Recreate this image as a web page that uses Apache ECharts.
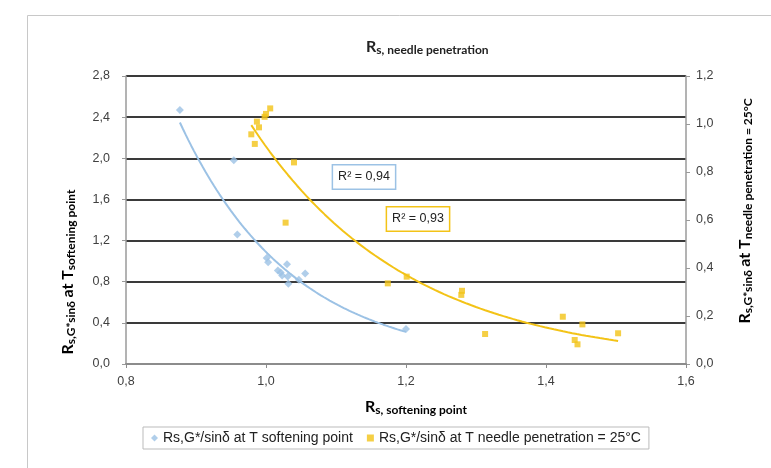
<!DOCTYPE html>
<html>
<head>
<meta charset="utf-8">
<script src="https://cdn.jsdelivr.net/npm/echarts@6/dist/echarts.min.js"></script>
<style>html,body{margin:0;padding:0;background:#fff}#c{width:771px;height:468px}</style>
</head>
<body>
<div id="c"></div>
<script>
// ---- data ----
const blueName = 'Rs,G*/sinδ at T softening point';
const yellowName = 'Rs,G*/sinδ at T needle penetration = 25°C';
const blueX = [0.877, 0.954, 0.959, 1.001, 1.003, 1.030, 1.017, 1.021, 1.023, 1.031, 1.032, 1.047, 1.056, 1.200];
const blueY = [2.47, 1.98, 1.26, 1.03, 0.99, 0.97, 0.91, 0.89, 0.86, 0.85, 0.78, 0.82, 0.88, 0.34];
const yellowX = [0.979, 0.984, 0.987, 0.990, 0.998, 1.000, 1.006, 1.028, 1.040, 1.174, 1.201, 1.279, 1.280, 1.313, 1.424, 1.441, 1.445, 1.452, 1.503];
const yellowY = [0.957, 0.917, 1.010, 0.986, 1.030, 1.042, 1.065, 0.589, 0.840, 0.336, 0.364, 0.288, 0.305, 0.125, 0.197, 0.100, 0.082, 0.165, 0.128];
const r2Labels = ['R² = 0,94', 'R² = 0,93'];
const xTicks = {min: 0.8, max: 1.6, step: 0.2};
const yLeftTicks = {min: 0, max: 2.8, step: 0.4};
const yRightTicks = {min: 0, max: 1.2, step: 0.2};

// ---- exponential regression trendlines (as a spreadsheet would compute) ----
function linFit(xs, ys) {
  const n = xs.length;
  let sx = 0, sy = 0, sxx = 0, sxy = 0;
  for (let i = 0; i < n; i++) { sx += xs[i]; sy += ys[i]; sxx += xs[i]*xs[i]; sxy += xs[i]*ys[i]; }
  const b = (n*sxy - sx*sy) / (n*sxx - sx*sx);
  const a = (sy - b*sx) / n;
  return {a, b};
}
function expTrend(xs, ys, steps) {
  const f = linFit(xs, ys.map(Math.log));
  const lo = Math.min(...xs), hi = Math.max(...xs), out = [];
  for (let i = 0; i <= steps; i++) { const x = lo + (hi-lo)*i/steps; out.push([x, Math.exp(f.a + f.b*x)]); }
  return out;
}
const zip = (xs, ys) => xs.map((x, i) => [x, ys[i]]);

const BLUE = '#9cc2e5';
const YELLOW = '#f3c317';
const fmt = v => v.toFixed(1).replace('.', ',');
const lab = {fontFamily: 'Liberation Sans', fontSize: 12.5, color: '#404040'};
const nameFont = 'Lato';
const richName = {
  a: {fontFamily: nameFont, fontWeight: 'bold', fontSize: 16, color: '#222'},
  b: {fontFamily: nameFont, fontWeight: 'bold', fontSize: 12, color: '#222', padding: [7, 0, 0, 0]}
};

const chart = echarts.init(document.getElementById('c'), null, {renderer: 'canvas'});
chart.setOption({
  animation: false,
  backgroundColor: '#fff',
  grid: {left: 126, right: 85, top: 76, bottom: 104},
  title: {
    text: '{a|R}{b|s, needle penetration}',
    left: 361, top: 32,
    textStyle: {rich: richName}
  },
  legend: {
    top: 427, left: 143,
    itemWidth: 7, itemHeight: 7, itemGap: 14,
    borderColor: '#bbb', borderWidth: 1, padding: [4, 8],
    textStyle: {fontFamily: 'Liberation Sans', fontSize: 14, color: '#222'},
    data: [{name: blueName, icon: 'diamond'}, {name: yellowName, icon: 'rect'}]
  },
  xAxis: {
    type: 'value', min: xTicks.min, max: xTicks.max, interval: xTicks.step,
    axisLine: {show: true, lineStyle: {color: '#8c8c8c', width: 2}},
    axisTick: {show: true, length: 4, lineStyle: {color: '#8c8c8c'}},
    axisLabel: Object.assign({formatter: fmt, margin: 11}, lab),
    splitLine: {show: false}
  },
  yAxis: [{
    type: 'value', min: yLeftTicks.min, max: yLeftTicks.max, interval: yLeftTicks.step,
    axisLine: {show: true, lineStyle: {color: '#9a9a9a', width: 1.5}},
    axisTick: {show: true, length: 4, lineStyle: {color: '#9a9a9a'}},
    axisLabel: Object.assign({formatter: fmt, margin: 16}, lab),
    splitLine: {show: true, lineStyle: {color: '#3a3a3a', width: 2}}
  }, {
    type: 'value', min: yRightTicks.min, max: yRightTicks.max, interval: yRightTicks.step,
    position: 'right',
    axisLine: {show: true, lineStyle: {color: '#9a9a9a', width: 1.5}},
    axisTick: {show: true, length: 4, lineStyle: {color: '#9a9a9a'}},
    axisLabel: Object.assign({formatter: fmt, margin: 10}, lab),
    splitLine: {show: false}
  }],
  graphic: [
    {type: 'rect', left: 25, top: 13, shape: {width: 770, height: 470}, style: {fill: 'none', stroke: '#c8c8c8', lineWidth: 1}, z: -10, silent: true},
    {type: 'text', x: 68, y: 272, rotation: Math.PI/2, z: 10,
      style: {text: '{a|R}{b|s,G*sinδ} {a|at T}{b|softening point}', align: 'center', verticalAlign: 'middle', rich: richName}},
    {type: 'text', x: 745, y: 211, rotation: Math.PI/2, z: 10,
      style: {text: '{a|R}{b|s,G*sinδ} {a|at T}{b|needle penetration = 25°C}', align: 'center', verticalAlign: 'middle', rich: richName}},
    {type: 'text', x: 416, y: 407, z: 10,
      style: {text: '{a|R}{b|s, softening point}', align: 'center', verticalAlign: 'middle', rich: richName}},
    {type: 'text', x: 364, y: 177, z: 20,
      style: {text: r2Labels[0], align: 'center', verticalAlign: 'middle', fontFamily: 'Liberation Sans', fontSize: 12.5, fill: '#222',
        backgroundColor: '#fff', borderColor: '#9cc2e5', borderWidth: 1.5, padding: [5, 5]}},
    {type: 'text', x: 418, y: 219, z: 20,
      style: {text: r2Labels[1], align: 'center', verticalAlign: 'middle', fontFamily: 'Liberation Sans', fontSize: 12.5, fill: '#222',
        backgroundColor: '#fff', borderColor: '#f3c317', borderWidth: 1.5, padding: [5, 5]}}
  ],
  series: [
    {name: blueName, type: 'scatter', yAxisIndex: 0, symbol: 'diamond', symbolSize: 8,
      itemStyle: {color: BLUE}, data: zip(blueX, blueY), z: 5},
    {name: yellowName, type: 'scatter', yAxisIndex: 1, symbol: 'rect', symbolSize: 6,
      itemStyle: {color: YELLOW}, data: zip(yellowX, yellowY), z: 5},
    {name: 'blueTrend', type: 'line', yAxisIndex: 0, showSymbol: false, symbol: 'none',
      lineStyle: {color: BLUE, width: 2}, data: expTrend(blueX, blueY, 80), z: 4},
    {name: 'yellowTrend', type: 'line', yAxisIndex: 1, showSymbol: false, symbol: 'none',
      lineStyle: {color: YELLOW, width: 2}, data: expTrend(yellowX, yellowY, 80), z: 4}
  ]
});
</script>
</body>
</html>
